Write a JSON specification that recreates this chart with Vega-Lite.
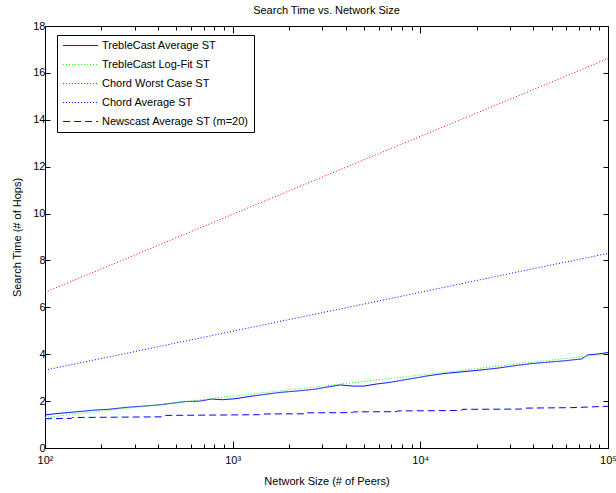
{
  "$schema": "https://vega.github.io/schema/vega-lite/v6.json",
  "width": 563,
  "height": 422,
  "autosize": {"type": "none"},
  "padding": {"left": 45, "top": 26, "right": 8, "bottom": 45},
  "background": "white",
  "title": {"text": "Search Time vs. Network Size", "font": "Liberation Sans", "fontSize": 11, "fontWeight": "normal", "color": "black", "anchor": "middle", "offset": 4},
  "config": {
    "view": {"stroke": "black", "strokeWidth": 1},
    "axis": {"grid": false, "domain": false, "tickColor": "black", "tickWidth": 1, "labelColor": "black", "labelFont": "Liberation Sans", "labelFontSize": 11, "titleFont": "Liberation Sans", "titleFontSize": 11, "titleFontWeight": "normal", "titleColor": "black"},
    "legend": {"orient": "none", "legendX": 12, "legendY": 9, "strokeColor": "black", "fillColor": "white", "padding": 5, "symbolType": "M-1,0H7", "symbolSize": 76.6, "symbolStrokeWidth": 1, "labelFont": "Liberation Sans", "labelFontSize": 11, "labelColor": "black", "labelLimit": 300, "rowPadding": 7, "labelOffset": 29}
  },
  "data": {"values": [
    {"series": "TrebleCast Average ST", "N": 100, "value": 1.41},
    {"series": "TrebleCast Average ST", "N": 113, "value": 1.46},
    {"series": "TrebleCast Average ST", "N": 150, "value": 1.55},
    {"series": "TrebleCast Average ST", "N": 185, "value": 1.62},
    {"series": "TrebleCast Average ST", "N": 217, "value": 1.65},
    {"series": "TrebleCast Average ST", "N": 278, "value": 1.74},
    {"series": "TrebleCast Average ST", "N": 341, "value": 1.79},
    {"series": "TrebleCast Average ST", "N": 419, "value": 1.85},
    {"series": "TrebleCast Average ST", "N": 557, "value": 1.98},
    {"series": "TrebleCast Average ST", "N": 670, "value": 2.0},
    {"series": "TrebleCast Average ST", "N": 773, "value": 2.09},
    {"series": "TrebleCast Average ST", "N": 880, "value": 2.06},
    {"series": "TrebleCast Average ST", "N": 1028, "value": 2.1},
    {"series": "TrebleCast Average ST", "N": 1189, "value": 2.18},
    {"series": "TrebleCast Average ST", "N": 1459, "value": 2.28},
    {"series": "TrebleCast Average ST", "N": 1788, "value": 2.37},
    {"series": "TrebleCast Average ST", "N": 2193, "value": 2.43},
    {"series": "TrebleCast Average ST", "N": 2693, "value": 2.5},
    {"series": "TrebleCast Average ST", "N": 3304, "value": 2.62},
    {"series": "TrebleCast Average ST", "N": 3733, "value": 2.69},
    {"series": "TrebleCast Average ST", "N": 4395, "value": 2.64},
    {"series": "TrebleCast Average ST", "N": 4970, "value": 2.64},
    {"series": "TrebleCast Average ST", "N": 5850, "value": 2.73},
    {"series": "TrebleCast Average ST", "N": 6890, "value": 2.8},
    {"series": "TrebleCast Average ST", "N": 8110, "value": 2.9},
    {"series": "TrebleCast Average ST", "N": 9950, "value": 3.02},
    {"series": "TrebleCast Average ST", "N": 10790, "value": 3.07},
    {"series": "TrebleCast Average ST", "N": 13200, "value": 3.17},
    {"series": "TrebleCast Average ST", "N": 16200, "value": 3.24},
    {"series": "TrebleCast Average ST", "N": 21230, "value": 3.33},
    {"series": "TrebleCast Average ST", "N": 26000, "value": 3.41},
    {"series": "TrebleCast Average ST", "N": 31900, "value": 3.51},
    {"series": "TrebleCast Average ST", "N": 39200, "value": 3.6},
    {"series": "TrebleCast Average ST", "N": 47900, "value": 3.66},
    {"series": "TrebleCast Average ST", "N": 58900, "value": 3.72},
    {"series": "TrebleCast Average ST", "N": 72300, "value": 3.8},
    {"series": "TrebleCast Average ST", "N": 78100, "value": 3.97},
    {"series": "TrebleCast Average ST", "N": 88700, "value": 4.01},
    {"series": "TrebleCast Average ST", "N": 100000, "value": 4.07},
    {"series": "TrebleCast Log-Fit ST", "N": 100, "value": 1.3},
    {"series": "TrebleCast Log-Fit ST", "N": 316, "value": 1.75},
    {"series": "TrebleCast Log-Fit ST", "N": 1000, "value": 2.21},
    {"series": "TrebleCast Log-Fit ST", "N": 3162, "value": 2.66},
    {"series": "TrebleCast Log-Fit ST", "N": 10000, "value": 3.11},
    {"series": "TrebleCast Log-Fit ST", "N": 31623, "value": 3.57},
    {"series": "TrebleCast Log-Fit ST", "N": 100000, "value": 4.02},
    {"series": "Chord Worst Case ST", "N": 100, "value": 6.64},
    {"series": "Chord Worst Case ST", "N": 316, "value": 8.3},
    {"series": "Chord Worst Case ST", "N": 1000, "value": 9.97},
    {"series": "Chord Worst Case ST", "N": 3162, "value": 11.63},
    {"series": "Chord Worst Case ST", "N": 10000, "value": 13.29},
    {"series": "Chord Worst Case ST", "N": 31623, "value": 14.95},
    {"series": "Chord Worst Case ST", "N": 100000, "value": 16.61},
    {"series": "Chord Average ST", "N": 100, "value": 3.32},
    {"series": "Chord Average ST", "N": 316, "value": 4.15},
    {"series": "Chord Average ST", "N": 1000, "value": 4.98},
    {"series": "Chord Average ST", "N": 3162, "value": 5.81},
    {"series": "Chord Average ST", "N": 10000, "value": 6.64},
    {"series": "Chord Average ST", "N": 31623, "value": 7.48},
    {"series": "Chord Average ST", "N": 100000, "value": 8.3},
    {"series": "Newscast Average ST (m=20)", "N": 100, "value": 1.25},
    {"series": "Newscast Average ST (m=20)", "N": 138, "value": 1.26},
    {"series": "Newscast Average ST (m=20)", "N": 140, "value": 1.3},
    {"series": "Newscast Average ST (m=20)", "N": 430, "value": 1.33},
    {"series": "Newscast Average ST (m=20)", "N": 440, "value": 1.39},
    {"series": "Newscast Average ST (m=20)", "N": 1390, "value": 1.42},
    {"series": "Newscast Average ST (m=20)", "N": 1400, "value": 1.45},
    {"series": "Newscast Average ST (m=20)", "N": 2470, "value": 1.46},
    {"series": "Newscast Average ST (m=20)", "N": 2480, "value": 1.5},
    {"series": "Newscast Average ST (m=20)", "N": 4360, "value": 1.51},
    {"series": "Newscast Average ST (m=20)", "N": 4400, "value": 1.54},
    {"series": "Newscast Average ST (m=20)", "N": 7450, "value": 1.55},
    {"series": "Newscast Average ST (m=20)", "N": 7600, "value": 1.58},
    {"series": "Newscast Average ST (m=20)", "N": 16500, "value": 1.6},
    {"series": "Newscast Average ST (m=20)", "N": 16700, "value": 1.65},
    {"series": "Newscast Average ST (m=20)", "N": 34500, "value": 1.66},
    {"series": "Newscast Average ST (m=20)", "N": 35000, "value": 1.7},
    {"series": "Newscast Average ST (m=20)", "N": 63000, "value": 1.72},
    {"series": "Newscast Average ST (m=20)", "N": 100000, "value": 1.78}
  ]},
  "layer": [
    {
      "mark": {"type": "line", "strokeWidth": 1, "clip": true},
      "encoding": {
        "x": {"field": "N", "type": "quantitative", "scale": {"type": "log", "domain": [100, 100000], "nice": false},
          "axis": {"orient": "bottom", "title": "Network Size (# of Peers)", "titlePadding": 7,
            "values": [100,200,300,400,500,600,700,800,900,1000,2000,3000,4000,5000,6000,7000,8000,9000,10000,20000,30000,40000,50000,60000,70000,80000,90000,100000],
            "labelExpr": "datum.value == 100 ? '10²' : datum.value == 1000 ? '10³' : datum.value == 10000 ? '10⁴' : datum.value == 100000 ? '10⁵' : ''",
            "tickSize": {"condition": {"test": "datum.value == 100 || datum.value == 1000 || datum.value == 10000 || datum.value == 100000", "value": -7}, "value": -4},
            "labelPadding": 13, "labelFlush": false, "labelOverlap": false}},
        "y": {"field": "value", "type": "quantitative", "scale": {"domain": [0, 18], "nice": false},
          "axis": {"orient": "left", "title": "Search Time (# of Hops)", "titlePadding": 10, "values": [0,2,4,6,8,10,12,14,16,18], "tickSize": -5, "labelPadding": 5}},
        "color": {"field": "series", "type": "nominal",
          "legend": {"title": null, "encode": {"symbols": {"update": {"stroke": {"signal": "scale('color', datum.value)"}, "strokeDash": {"signal": "scale('strokeDash', datum.value)"}, "fill": {"value": "transparent"}}}}},
          "scale": {"domain": ["TrebleCast Average ST", "TrebleCast Log-Fit ST", "Chord Worst Case ST", "Chord Average ST", "Newscast Average ST (m=20)"],
            "range": ["#0000ff", "#00ff00", "#ff0000", "#0000ff", "#0000ff"]}},
        "strokeDash": {"field": "series", "type": "nominal", "legend": null,
          "scale": {"domain": ["TrebleCast Average ST", "TrebleCast Log-Fit ST", "Chord Worst Case ST", "Chord Average ST", "Newscast Average ST (m=20)"],
            "range": [[1, 0], [1, 2], [1, 2], [1, 2], [7, 4]]}}
      }
    },
    {
      "mark": {"type": "line", "strokeOpacity": 0},
      "encoding": {
        "x": {"field": "N", "type": "quantitative",
          "axis": {"orient": "top", "title": null, "labels": false,
            "values": [100,200,300,400,500,600,700,800,900,1000,2000,3000,4000,5000,6000,7000,8000,9000,10000,20000,30000,40000,50000,60000,70000,80000,90000,100000],
            "tickSize": {"condition": {"test": "datum.value == 100 || datum.value == 1000 || datum.value == 10000 || datum.value == 100000", "value": -7}, "value": -4}}},
        "y": {"field": "value", "type": "quantitative",
          "axis": {"orient": "right", "title": null, "labels": false, "values": [0,2,4,6,8,10,12,14,16,18], "tickSize": -5}},
        "detail": {"field": "series", "type": "nominal"}
      }
    }
  ],
  "resolve": {"axis": {"x": "independent", "y": "independent"}}
}
